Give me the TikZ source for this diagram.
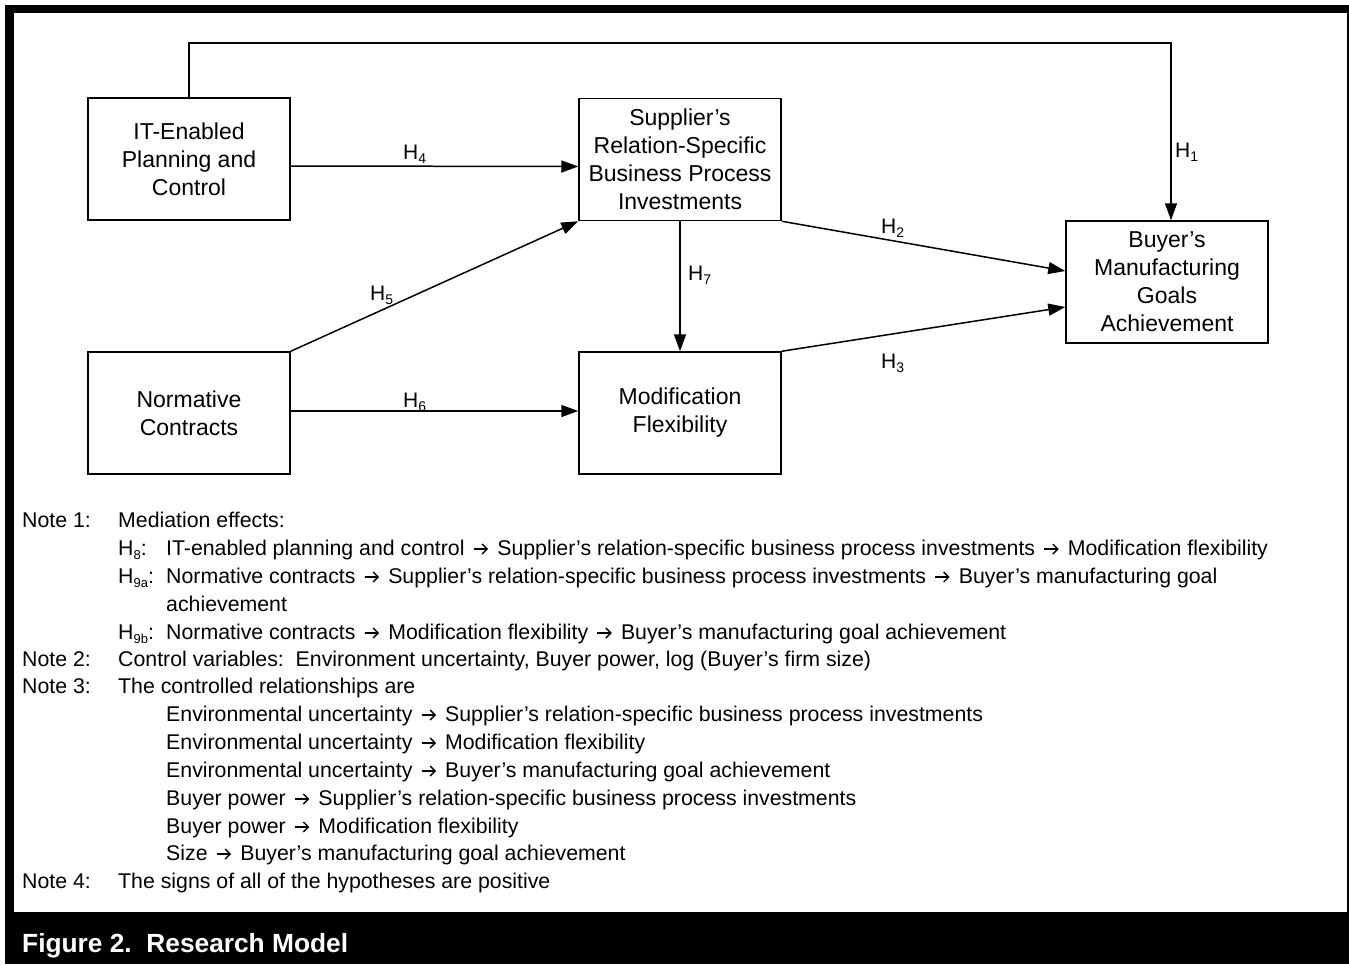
\documentclass[tikz,border=0pt]{standalone}
\usepackage{fontspec}
\setmainfont{Liberation Sans}
\usetikzlibrary{arrows.meta}
\newcommand{\Hsub}[1]{H\raisebox{-4.5pt}{\fontsize{14}{14}\selectfont #1}}
\newcommand{\Hn}[1]{H\raisebox{-4pt}{\fontsize{13}{13}\selectfont #1}}
\newsavebox\arbox
\newcommand{\ra}{\hspace{2.5pt}\usebox\arbox\hspace{2.5pt}}
\begin{document}
\sbox\arbox{\begin{pgfpicture}\pgfsetbaseline{0pt}\pgfsetlinewidth{1.3pt}\pgfsetarrowsend{Straight Barb[length=5pt,width=10pt,line width=1.4pt]}\pgfpathmoveto{\pgfpoint{0pt}{6pt}}\pgfpathlineto{\pgfpoint{14.5pt}{6pt}}\pgfusepath{stroke}\end{pgfpicture}}%
\begin{tikzpicture}[x=1pt,y=-1pt,
  box/.style={draw, line width=1.5pt, minimum width=202pt, minimum height=122pt, inner sep=0pt, align=center, font=\fontsize{23}{28}\selectfont},
  arr/.style={line width=1.5pt, -{Triangle[length=17pt,width=12pt]}},
  hl/.style={anchor=base west, inner sep=0pt, font=\fontsize{21}{21}\selectfont},
  note/.style={anchor=base west, inner sep=0pt, font=\fontsize{21.3}{28}\selectfont}]
% background and frame
\fill[white] (0,0) rectangle (1349,964);
\useasboundingbox (0,0) rectangle (1349,964);
\fill[black] (5,5) rectangle (1349,13);
\fill[black] (5,5) rectangle (14,964);
\fill[black] (1347,5) rectangle (1349,964);
\fill[black] (5,912) rectangle (1349,964);
\node[anchor=base west, inner sep=0pt, text=white, font=\fontsize{26.3}{26}\selectfont\bfseries] (cap) at (22,952) {Figure 2.\ \ Research Model};
% boxes
\node[box] (it) at (189,159) {IT-Enabled\\Planning and\\Control};
\node[box] (sup) at (680,159.5) {Supplier’s\\Relation-Specific\\Business Process\\Investments};
\node[box] (buy) at (1167,282) {Buyer’s\\Manufacturing\\Goals\\Achievement};
\node[box] (norm) at (189,413) {Normative\\Contracts};
\node[box] (mod) at (680,413) {Modification\\Flexibility};
% connectors
\coordinate (c1) at (1171,43);
\draw[arr] (it.north) |- (c1) -- (c1 |- buy.north);
\draw[arr] ([yshift=-7pt]it.east) -- ([yshift=-7pt]sup.west);
\draw[arr] (norm.north east) -- (sup.south west);
\draw[arr] ([yshift=2pt]norm.east) -- ([yshift=2pt]mod.west);
\draw[arr] (sup.south) -- (mod.north);
\draw[arr] (sup.south east) -- ([yshift=11pt]buy.west);
\draw[arr] (mod.north east) -- ([yshift=-25pt]buy.west);
% labels
\node[hl] (l1) at (1175,157) {\Hsub{1}};
\node[hl] (l4) at (403,159) {\Hsub{4}};
\node[hl] (l5) at (370,300) {\Hsub{5}};
\node[hl] (l6) at (403,407) {\Hsub{6}};
\node[hl] (l7) at (688,280) {\Hsub{7}};
\node[hl] (l2) at (881,233) {\Hsub{2}};
\node[hl] (l3) at (881,368) {\Hsub{3}};
% notes
\node[note] (n1a) at (22,527) {Note 1:};
\node[note] (n1b) at (118,527) {Mediation effects:};
\node[note] (n2a) at (118,555) {\Hn{8}:};
\node[note] (n2b) at (166,555) {IT-enabled planning and control \ra{} Supplier’s relation-specific business process investments \ra{} Modification flexibility};
\node[note] (n3a) at (118,583) {\Hn{9a}:};
\node[note] (n3b) at (166,583) {Normative contracts \ra{} Supplier’s relation-specific business process investments \ra{} Buyer’s manufacturing goal};
\node[note] (n4) at (166,611) {achievement};
\node[note] (n5a) at (118,639) {\Hn{9b}:};
\node[note] (n5b) at (166,639) {Normative contracts \ra{} Modification flexibility \ra{} Buyer’s manufacturing goal achievement};
\node[note] (n6a) at (22,666) {Note 2:};
\node[note] (n6b) at (118,666) {Control variables:\ \ Environment uncertainty, Buyer power, log (Buyer’s firm size)};
\node[note] (n7a) at (22,693) {Note 3:};
\node[note] (n7b) at (118,693) {The controlled relationships are};
\node[note] (n8) at (166,721) {Environmental uncertainty \ra{} Supplier’s relation-specific business process investments};
\node[note] (n9) at (166,749) {Environmental uncertainty \ra{} Modification flexibility};
\node[note] (n10) at (166,777) {Environmental uncertainty \ra{} Buyer’s manufacturing goal achievement};
\node[note] (n11) at (166,805) {Buyer power \ra{} Supplier’s relation-specific business process investments};
\node[note] (n12) at (166,833) {Buyer power \ra{} Modification flexibility};
\node[note] (n13) at (166,860) {Size \ra{} Buyer’s manufacturing goal achievement};
\node[note] (n14a) at (22,888) {Note 4:};
\node[note] (n14b) at (118,888) {The signs of all of the hypotheses are positive};
\end{tikzpicture}
\end{document}
